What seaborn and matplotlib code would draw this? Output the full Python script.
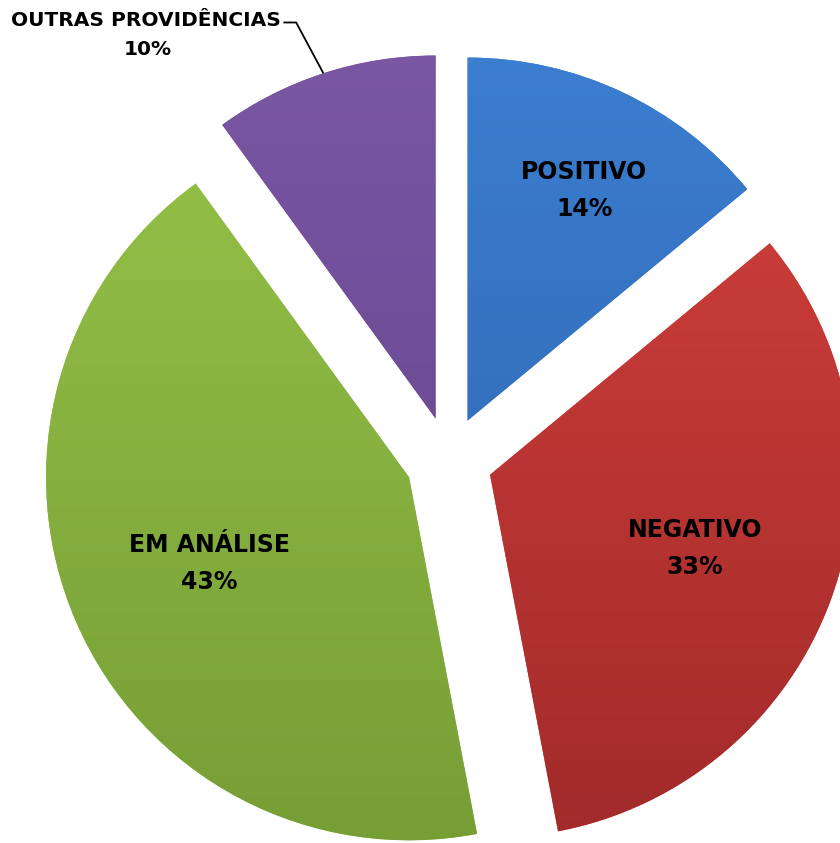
import matplotlib
matplotlib.use("Agg")
import matplotlib.pyplot as plt
import matplotlib.colors as mcolors
import numpy as np
import seaborn as sns

labels = ["POSITIVO", "NEGATIVO", "EM ANÁLISE", "OUTRAS PROVIDÊNCIAS"]
values = [14, 33, 43, 10]
top_colors = ["#3C7ED1", "#D1403C", "#95C249", "#7B57A4"]
bottom_colors = ["#2D63AA", "#A12A2A", "#769D35", "#5F4287"]

sns.set_theme(style="white")
plt.rcParams["font.family"] = ["DejaVu Sans"]

fig = plt.figure(figsize=(8.4, 8.43), dpi=100)
ax = fig.add_axes([0, 0, 1, 1])

wedges, texts, autotexts = ax.pie(
    values,
    startangle=90,
    counterclock=False,
    explode=[0.12] * len(values),
    colors=top_colors,
    autopct="%d%%",
    pctdistance=0.6,
    radius=1.0,
    wedgeprops=dict(linewidth=0),
)

# vertical gradient fill clipped to each wedge
for w, c_top, c_bot in zip(wedges, top_colors, bottom_colors):
    cmap = mcolors.LinearSegmentedColormap.from_list("g", [c_bot, c_top])
    cx, cy = w.center
    grad = np.linspace(0, 1, 256).reshape(-1, 1)
    im = ax.imshow(grad, cmap=cmap, origin="lower", aspect="auto",
                   extent=[cx - 1.05, cx + 1.05, cy - 1.05, cy + 1.05],
                   zorder=w.get_zorder() + 0.1)
    im.set_clip_path(w)

for i, (t, lab, v) in enumerate(zip(autotexts, labels, values)):
    t.set_zorder(5)
    if i == 3:
        t.set_text("")
        continue
    t.set_text(f"{lab}\n{v}%")
    t.set_fontsize(17)
    t.set_fontweight("heavy")
    t.set_color("black")
    t.set_linespacing(1.7)

# POSITIVO label sits a bit further out in the original
w0 = wedges[0]
mid0 = np.deg2rad((w0.theta1 + w0.theta2) / 2)
autotexts[0].set_position((w0.center[0] + 0.71 * np.cos(mid0 - 0.03),
                           w0.center[1] + 0.71 * np.sin(mid0 - 0.03)))

# outside label with leader line for the small slice
w3 = wedges[3]
mid3 = np.deg2rad((w3.theta1 + w3.theta2) / 2)
arc_pt = (w3.center[0] + np.cos(mid3), w3.center[1] + np.sin(mid3))
elbow = (arc_pt[0] - 0.075, arc_pt[1] + 0.14)
start = (elbow[0] - 0.035, elbow[1])
ax.plot([start[0], elbow[0], arc_pt[0]], [start[1], elbow[1], arc_pt[1]],
        color="black", lw=1.3, zorder=6, solid_capstyle="butt")
ax.text(start[0] - 0.008, start[1] + 0.005, labels[3], ha="right", va="center",
        fontsize=14.5, fontweight="heavy", color="black", zorder=6)
ax.text(-0.83, start[1] - 0.074, f"{values[3]}%", ha="center", va="center",
        fontsize=14.5, fontweight="heavy", color="black", zorder=6)

ax.set_xlim(-1.237, 1.077)
ax.set_ylim(-1.055, 1.267)
ax.set_aspect("equal")
ax.axis("off")

fig.savefig("out.png", dpi=100, facecolor="white")
